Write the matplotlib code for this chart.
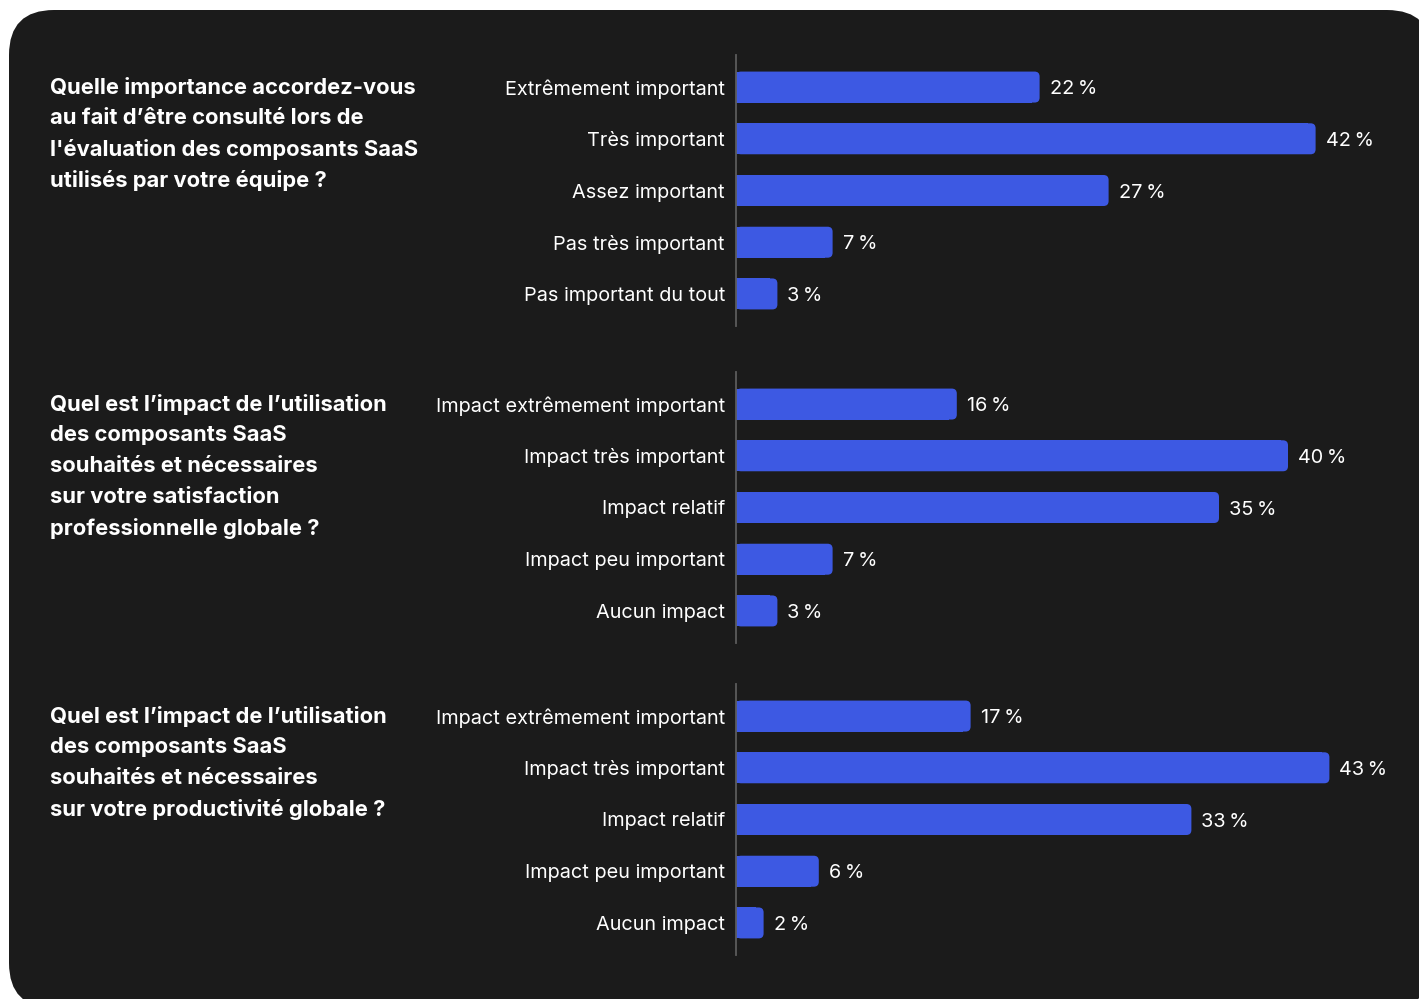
import matplotlib
matplotlib.use("Agg")
import matplotlib.pyplot as plt
from matplotlib.patches import FancyBboxPatch
from matplotlib.transforms import Affine2D

# ---------------- data ----------------
q1_title = "Quelle importance accordez-vous\nau fait d’être consulté lors de\nl'évaluation des composants SaaS\nutilisés par votre équipe ?"
q1_labels = ["Extrêmement important", "Très important", "Assez important",
             "Pas très important", "Pas important du tout"]
q1_values = [22, 42, 27, 7, 3]

q2_title = "Quel est l’impact de l’utilisation\ndes composants SaaS\nsouhaités et nécessaires\nsur votre satisfaction\nprofessionnelle globale ?"
q2_labels = ["Impact extrêmement important", "Impact très important", "Impact relatif",
             "Impact peu important", "Aucun impact"]
q2_values = [16, 40, 35, 7, 3]

q3_title = "Quel est l’impact de l’utilisation\ndes composants SaaS\nsouhaités et nécessaires\nsur votre productivité globale ?"
q3_labels = ["Impact extrêmement important", "Impact très important", "Impact relatif",
             "Impact peu important", "Aucun impact"]
q3_values = [17, 43, 33, 6, 2]

# ---------------- style ----------------
W, H, DPI = 1419, 999, 100
BG = "#1b1b1b"
BAR = "#3d59e3"
AXIS = "#5c5c5c"
FONT = "Inter"

fig = plt.figure(figsize=(W / DPI, H / DPI), dpi=DPI)
fig.patch.set_facecolor("white")

px = Affine2D().scale(1 / DPI) + fig.dpi_scale_trans  # pixel transform (origin bottom-left)

# dark rounded panel
panel = FancyBboxPatch((9, H - 1008), 1432 - 9, 1008 - 10,
                       boxstyle="round,pad=0,rounding_size=45",
                       transform=px, facecolor=BG, edgecolor="none", zorder=0)
fig.add_artist(panel)

x0_px = 736
px_per_pct = 13.8
xmax = 48
row_px = 51.75
ax_h_px = 271
ylo, yhi = -0.62, 4.62

groups = [
    (q1_title, q1_labels, q1_values, 55),
    (q2_title, q2_labels, q2_values, 372),
    (q3_title, q3_labels, q3_values, 684),
]

r_px = 5
rx = r_px / px_per_pct
aspect = (1 / row_px) / (1 / px_per_pct)
bar_h = 31 / row_px

for title, labels, values, top in groups:
    ax = fig.add_axes([x0_px / W, (H - top - ax_h_px) / H,
                       xmax * px_per_pct / W, ax_h_px / H])
    ax.set_facecolor("none")
    ax.set_xlim(0, xmax)
    ax.set_ylim(yhi, ylo)
    ypos = list(range(len(values)))
    bars = ax.barh(ypos, values, height=bar_h, color=BAR, zorder=2)
    for b in bars:
        x, y, w, h = b.get_x(), b.get_y(), b.get_width(), b.get_height()
        rp = FancyBboxPatch((x, y), w, h,
                            boxstyle=f"round,pad=0,rounding_size={rx}",
                            mutation_aspect=aspect,
                            facecolor=BAR, edgecolor="none", zorder=2)
        ax.add_patch(rp)
        b.set_width(max(w - rx * 1.5, 0))
    for v, yy in zip(values, ypos):
        ax.annotate(f"{v}\u2009%", xy=(v, yy), xytext=(10 * 72 / DPI, -1.5),
                    textcoords="offset points", va="center", ha="left",
                    color="white", fontsize=14.3, family=FONT)
    for s in ["top", "right", "bottom"]:
        ax.spines[s].set_visible(False)
    ax.spines["left"].set_color(AXIS)
    ax.spines["left"].set_linewidth(1.3)
    ax.spines["left"].set_zorder(3)
    ax.set_xticks([])
    ax.set_yticks(ypos)
    ax.set_yticklabels(labels, color="white", fontsize=14.3, family=FONT)
    ax.tick_params(axis="y", length=0, pad=11 * 72 / DPI)

    # question text, one line at a time
    first_center = top + (0 - ylo) * row_px
    for i, line in enumerate(title.split("\n")):
        fig.text(50 / W, (H - (first_center + i * 31)) / H, line,
                 color="white", fontsize=15.8, fontweight="bold", family=FONT,
                 ha="left", va="center")

fig.savefig("out.png", dpi=DPI, facecolor="white")
